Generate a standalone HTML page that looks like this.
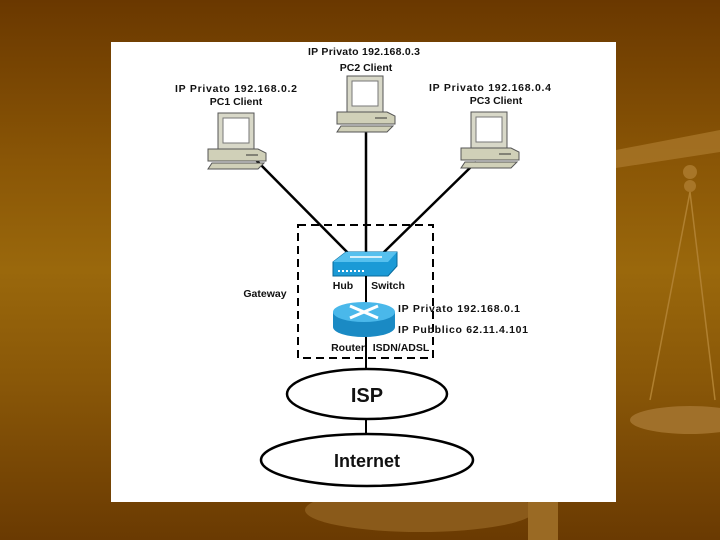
<!DOCTYPE html>
<html><head><style>
body{margin:0;width:720px;height:540px;overflow:hidden;background:linear-gradient(180deg,#6a3800 0%,#8a5606 30%,#9a680c 50%,#8a5808 70%,#6a3a02 100%);font-family:"Liberation Sans",sans-serif;}
</style></head><body>
<svg width="720" height="540" style="position:absolute;left:0;top:0">
<defs>
<g id="pc">
<rect x="10" y="0" width="36" height="36" fill="#d8d8c8" stroke="#555"/>
<rect x="15" y="5" width="26" height="25" fill="#fff" stroke="#777"/>
<polygon points="0,36 50,36 58,40 58,48 0,48" fill="#d0d0b8" stroke="#555"/>
<line x1="38" y1="42" x2="50" y2="42" stroke="#333"/>
<polygon points="4,50 56,50 50,56 0,56" fill="#d0d0b8" stroke="#555"/>
</g>
</defs>
<!-- faint scale -->
<polygon points="616,150 720,130 720,152 616,168" fill="#a87628" opacity="0.8"/>
<circle cx="690" cy="172" r="7" fill="#a87628"/><circle cx="690" cy="186" r="6" fill="#a87628"/>
<line x1="690" y1="192" x2="650" y2="400" stroke="#b08030" stroke-width="1.5"/>
<line x1="690" y1="192" x2="715" y2="400" stroke="#b08030" stroke-width="1.5"/>
<ellipse cx="420" cy="510" rx="115" ry="22" fill="#8a5a1a"/>
<rect x="528" y="500" width="30" height="40" fill="#9a6a24"/>
<ellipse cx="690" cy="420" rx="60" ry="14" fill="#a0702a"/>
<rect x="111" y="42" width="505" height="460" fill="#fff"/>
<g stroke="#000" stroke-width="2.5" fill="none">
<line x1="256" y1="160" x2="349" y2="254"/>
<line x1="366" y1="128" x2="366" y2="254"/>
<line x1="476" y1="162" x2="382" y2="254"/>
<line x1="366" y1="276" x2="366" y2="380" stroke-width="2"/>
<line x1="366" y1="420" x2="366" y2="434" stroke-width="2"/>
</g>
<rect x="298" y="225" width="135" height="133" fill="none" stroke="#000" stroke-width="2" stroke-dasharray="8,5"/>
<use href="#pc" x="208" y="113"/>
<use href="#pc" x="337" y="76"/>
<use href="#pc" x="461" y="112"/>
<!-- switch -->
<polygon points="333,262 346,252 397,252 397,266 388,276 333,276" fill="#1b9ad6" stroke="#0a6a9a"/>
<polygon points="333,262 346,252 397,252 388,262" fill="#56c0ee"/>
<line x1="350" y1="257" x2="382" y2="257" stroke="#fff" stroke-width="1.5"/>
<line x1="338" y1="271" x2="365" y2="271" stroke="#fff" stroke-width="2" stroke-dasharray="2,2"/>
<!-- router -->
<rect x="333" y="312" width="62" height="15" fill="#1a8ac4"/>
<ellipse cx="364" cy="327" rx="31" ry="10" fill="#1a8ac4"/>
<ellipse cx="364" cy="312" rx="31" ry="10" fill="#4ab8ea"/>
<path d="M350,306 L378,318 M378,306 L350,318" stroke="#fff" stroke-width="3"/>
<line x1="366" y1="276" x2="366" y2="302" stroke="#000" stroke-width="2"/>
<line x1="366" y1="337" x2="366" y2="360" stroke="#000" stroke-width="2"/>
<!-- ellipses -->
<ellipse cx="367" cy="394" rx="80" ry="25" fill="#fff" stroke="#000" stroke-width="2.5"/>
<ellipse cx="367" cy="460" rx="106" ry="26" fill="#fff" stroke="#000" stroke-width="2.5"/>
<g font-family="Liberation Sans, sans-serif" font-weight="bold" font-size="10.5" fill="#111" text-anchor="middle">
<text x="364" y="55" textLength="112">IP Privato 192.168.0.3</text>
<text x="366" y="71">PC2 Client</text>
<text x="236" y="92" textLength="122">IP Privato 192.168.0.2</text>
<text x="236" y="105">PC1 Client</text>
<text x="490" y="91" textLength="122">IP Privato 192.168.0.4</text>
<text x="496" y="104">PC3 Client</text>
<text x="343" y="289">Hub</text>
<text x="388" y="289">Switch</text>
<text x="265" y="297">Gateway</text>
<text x="348" y="351">Router</text>
<text x="401" y="351">ISDN/ADSL</text>
<text x="398" y="312" text-anchor="start" textLength="122">IP Privato 192.168.0.1</text>
<text x="398" y="333" text-anchor="start" textLength="130">IP Pubblico 62.11.4.101</text>
<text x="367" y="402" font-size="20">ISP</text>
<text x="367" y="467" font-size="18">Internet</text>
</g>
</svg>
</body></html>
